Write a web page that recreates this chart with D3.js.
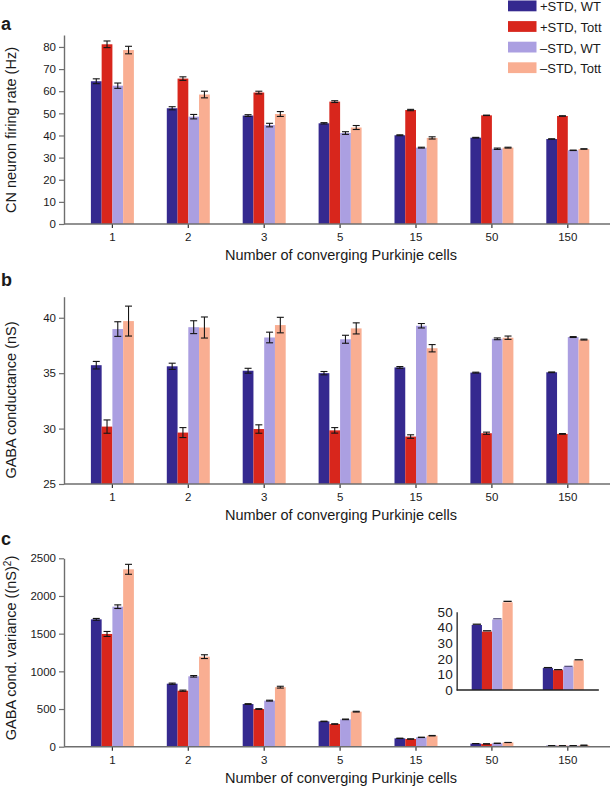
<!DOCTYPE html>
<html>
<head>
<meta charset="utf-8">
<script src="https://cdn.jsdelivr.net/npm/d3@7"></script>
<style>
  body { margin: 0; background: #fff; }
  text { font-family: "Liberation Sans", Arial, Helvetica, sans-serif; fill: #1a1a1a; }
</style>
</head>
<body>
<div id="vis"></div>
<script>
var width = 610
var height = 788

// categories and series
var categories = ["1", "2", "3", "5", "15", "50", "150"];
var seriesNames = ["+STD, WT", "+STD, Tott", "\u2013STD, WT", "\u2013STD, Tott"];
var seriesColors = ["#35298f", "#d8261c", "#ab9fe1", "#f9ae92"];

// panel a: CN neuron firing rate (Hz), one row per series
var rateMeans = [
  [64.5, 52.3, 49.0, 45.5, 40.1, 39.0, 38.4],
  [81.2, 65.7, 59.4, 55.3, 51.5, 49.1, 48.8],
  [62.5, 48.5, 44.7, 41.1, 34.5, 34.0, 33.3],
  [78.6, 58.5, 49.7, 43.6, 38.9, 34.5, 33.9]
];
var rateErrs = [
  [1.1, 0.7, 0.4, 0.3, 0.2, 0.15, 0.1],
  [1.5, 0.8, 0.6, 0.4, 0.3, 0.1, 0.1],
  [1.2, 1.0, 0.8, 0.6, 0.2, 0.3, 0.1],
  [1.7, 1.5, 1.1, 0.9, 0.5, 0.2, 0.1]
];

// panel b: GABA conductance (nS)
var gabaMeans = [
  [35.72, 35.62, 35.22, 35.0, 35.52, 35.05, 35.08],
  [30.18, 29.64, 29.96, 29.84, 29.28, 29.58, 29.52],
  [38.98, 39.15, 38.22, 38.06, 39.28, 38.1, 38.26],
  [39.7, 39.12, 39.34, 39.04, 37.25, 38.2, 38.03]
];
var gabaErrs = [
  [0.34, 0.28, 0.22, 0.15, 0.08, 0.04, 0.03],
  [0.6, 0.45, 0.38, 0.25, 0.16, 0.1, 0.03],
  [0.66, 0.58, 0.48, 0.36, 0.2, 0.08, 0.04],
  [1.35, 0.95, 0.7, 0.5, 0.33, 0.15, 0.04]
];

// panel c: GABA conductance variance ((nS)^2)
var varMeans = [
  [1690, 836, 566, 336, 111, 41.5, 14.0],
  [1496, 743, 500, 301, 102, 37.3, 12.7],
  [1858, 934, 611, 363, 124, 45.0, 14.8],
  [2354, 1195, 790, 465, 146, 56.0, 19.0]
];
var varErrs = [
  [12, 8, 5, 3, 2, 0.5, 0.3],
  [33, 8, 5, 3, 2, 0.5, 0.3],
  [24, 10, 6, 4, 2, 0.5, 0.3],
  [66, 25, 12, 5, 3, 0.6, 0.3]
];

// inset shows the last two groups of panel c
var insetCats = ["50", "150"];
var insetTicks = [0, 10, 20, 30, 40, 50];

var svg = d3.select("#vis")
  .append("svg")
  .attr("width", width)
  .attr("height", height)
  .style("display", "block")

var x = d3.scaleBand().domain(categories).range([74.45, 605.75]);
var xs = d3.scaleBand().domain(d3.range(4)).range([-21.5, 21.5]);

var axisColor = "#6e6e6e";

function drawPanel(p) {
  var g = svg.append("g");
  var y = d3.scaleLinear().domain(p.domain).range([p.y0, p.yTop]);
  var base = p.domain[0];

  // bars and error bars
  p.means.forEach(function(row, si) {
    var sg = g.append("g");
    var data = row.map(function(v, i) { return {cat: categories[i], v: v, e: p.errs[si][i]}; });
    sg.selectAll("rect").data(data).enter().append("rect")
      .attr("x", d => x(d.cat) + x.bandwidth() / 2 + xs(si))
      .attr("width", xs.bandwidth())
      .attr("y", d => y(d.v))
      .attr("height", d => y(base) - y(d.v))
      .attr("fill", seriesColors[si]);

    var eb = sg.selectAll("g.err").data(data).enter().append("g")
      .attr("class", "err")
      .attr("transform", d => "translate(" + (x(d.cat) + x.bandwidth() / 2 + xs(si) + xs.bandwidth() / 2) + ",0)")
      .attr("stroke", "#151515")
      .attr("stroke-width", 1.1);
    eb.append("line").attr("y1", d => y(d.v - d.e)).attr("y2", d => y(d.v + d.e));
    eb.append("line").attr("x1", -3.5).attr("x2", 3.5).attr("y1", d => y(d.v + d.e)).attr("y2", d => y(d.v + d.e));
    eb.append("line").attr("x1", -3.5).attr("x2", 3.5).attr("y1", d => y(d.v - d.e)).attr("y2", d => y(d.v - d.e));
  });

  // y axis
  var ya = g.append("g")
    .attr("transform", "translate(64,0)")
    .call(d3.axisLeft(y).tickValues(p.ticks).tickFormat(d3.format("d"))
      .tickSize(5).tickSizeOuter(0).tickPadding(3));
  ya.select(".domain").attr("stroke", axisColor).attr("stroke-width", 1.4);
  ya.selectAll(".tick line").attr("stroke", axisColor).attr("stroke-width", 1.2);
  ya.selectAll(".tick text").style("font-size", "11.5px").attr("fill", "#1a1a1a");

  // x axis: line spans the full width, ticks at group centres
  var xa = g.append("g")
    .attr("transform", "translate(0," + p.y0 + ")")
    .call(d3.axisBottom(x).tickSize(4).tickSizeOuter(0).tickPadding(5));
  xa.select(".domain").remove();
  xa.selectAll(".tick line").attr("stroke", "#333").attr("stroke-width", 1.2);
  xa.selectAll(".tick text").style("font-size", "11.5px").attr("fill", "#1a1a1a");
  g.append("line")
    .attr("x1", 64).attr("x2", width)
    .attr("y1", p.y0).attr("y2", p.y0)
    .attr("stroke", axisColor).attr("stroke-width", 1.4);

  g.append("text")
    .attr("x", 341).attr("y", p.y0 + 36)
    .attr("text-anchor", "middle")
    .style("font-size", "14.5px")
    .text("Number of converging Purkinje cells");

  var yt = g.append("text")
    .attr("transform", "translate(16," + p.titleY + ") rotate(-90)")
    .attr("text-anchor", "middle")
    .style("font-size", "14.5px")
    .text(p.yTitle);
  if (p.sup) {
    yt.append("tspan").attr("baseline-shift", "super").style("font-size", "10px").text(p.sup);
    yt.append("tspan").text(")");
  }

  g.append("text")
    .attr("x", 1).attr("y", p.letterY)
    .style("font-size", "18px").style("font-weight", "bold")
    .attr("fill", "#000")
    .text(p.letter);
}

drawPanel({
  letter: "a", letterY: 30,
  means: rateMeans, errs: rateErrs,
  domain: [0, 85.4], y0: 224, yTop: 35,
  ticks: d3.range(0, 81, 10),
  yTitle: "CN neuron firing rate (Hz)", titleY: 130
});

drawPanel({
  letter: "b", letterY: 286,
  means: gabaMeans, errs: gabaErrs,
  domain: [25, 41.9], y0: 484, yTop: 296.7,
  ticks: [25, 30, 35, 40],
  yTitle: "GABA conductance (nS)", titleY: 400
});

drawPanel({
  letter: "c", letterY: 545,
  means: varMeans, errs: varErrs,
  domain: [0, 2500], y0: 746.7, yTop: 558.3,
  ticks: d3.range(0, 2501, 500),
  yTitle: "GABA cond. variance ((nS)", sup: "2", titleY: 648
});

// inset: zoom on the 50 and 150 groups of panel c
var inset = svg.append("g");
var ix = d3.scaleBand().domain(insetCats).range([456.65, 598.85]);
var ixs = d3.scaleBand().domain(d3.range(4)).range([-20.5, 20.5]);
var iy = d3.scaleLinear().domain([0, 50]).range([690, 611.7]);

varMeans.forEach(function(row, si) {
  var data = insetCats.map(function(c) {
    var i = categories.indexOf(c);
    return {cat: c, v: row[i], e: varErrs[si][i]};
  });
  inset.append("g").selectAll("rect").data(data).enter().append("rect")
    .attr("x", d => ix(d.cat) + ix.bandwidth() / 2 + ixs(si))
    .attr("width", ixs.bandwidth())
    .attr("y", d => iy(d.v))
    .attr("height", d => iy(0) - iy(d.v))
    .attr("fill", seriesColors[si]);
  inset.append("g").selectAll("line").data(data).enter().append("line")
    .attr("x1", d => ix(d.cat) + ix.bandwidth() / 2 + ixs(si) + 1)
    .attr("x2", d => ix(d.cat) + ix.bandwidth() / 2 + ixs(si) + ixs.bandwidth() - 1)
    .attr("y1", d => iy(d.v + d.e)).attr("y2", d => iy(d.v + d.e))
    .attr("stroke", si == 2 ? "#5a5480" : "#151515").attr("stroke-width", 1.3);
});

var iya = inset.append("g")
  .attr("transform", "translate(456.65,0)")
  .call(d3.axisLeft(iy).tickValues(insetTicks).tickSize(0).tickPadding(4));
iya.select(".domain").attr("stroke", "#222").attr("stroke-width", 1.3);
iya.selectAll(".tick text").style("font-size", "13.5px").attr("fill", "#1a1a1a");
inset.append("line")
  .attr("x1", 456.65).attr("x2", 598.85)
  .attr("y1", iy(0)).attr("y2", iy(0))
  .attr("stroke", "#222").attr("stroke-width", 1.3);

// legend
var legend = svg.append("g").attr("transform", "translate(508,0)");
var items = legend.selectAll("g").data(seriesNames).enter().append("g")
  .attr("transform", (d, i) => "translate(0," + (i * 20.6 + 0.5) + ")");
items.append("rect")
  .attr("width", 28.5).attr("height", 10.8)
  .attr("fill", (d, i) => seriesColors[i]);
items.append("text")
  .attr("x", 32).attr("y", 10.8)
  .style("font-size", "13px")
  .text(d => d);
</script>
</body>
</html>
